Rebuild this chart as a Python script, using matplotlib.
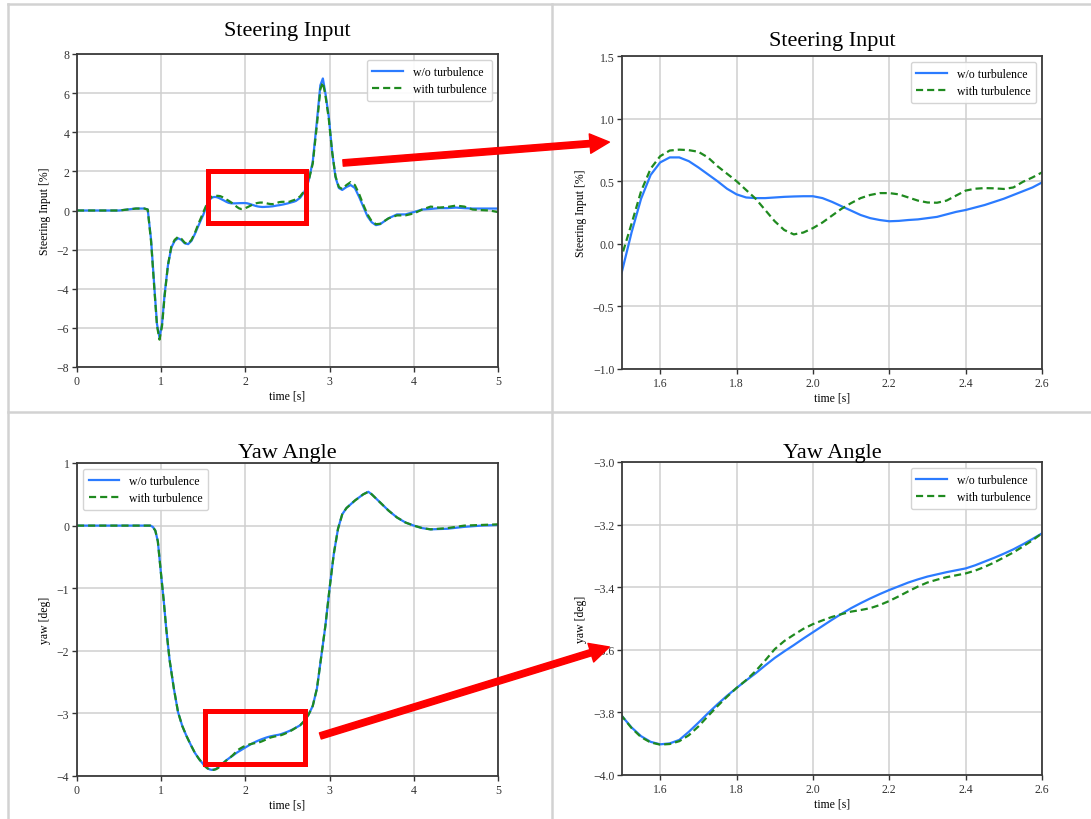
import matplotlib
matplotlib.use("Agg")
import matplotlib.pyplot as plt
from matplotlib.patches import Rectangle, ConnectionPatch
from matplotlib.lines import Line2D

plt.rcParams['font.family'] = ['Liberation Serif', 'DejaVu Serif']

# ---------------- data ----------------
t_steer = [0.0, 0.3, 0.5, 0.6, 0.7, 0.8, 0.84, 0.88, 0.92, 0.95, 0.98, 1.01, 1.04, 1.08,
           1.12, 1.16, 1.2, 1.24, 1.28, 1.32, 1.36, 1.4, 1.44, 1.47,
           1.5, 1.525, 1.55, 1.575, 1.6, 1.625, 1.65, 1.675, 1.7, 1.725, 1.75, 1.775,
           1.8, 1.825, 1.85, 1.875, 1.9, 1.925, 1.95, 1.975, 2.0, 2.025, 2.05, 2.075,
           2.1, 2.125, 2.15, 2.175, 2.2, 2.225, 2.25, 2.275, 2.3, 2.325, 2.35, 2.375,
           2.4, 2.425, 2.45, 2.475, 2.5, 2.525, 2.55, 2.575, 2.6,
           2.65, 2.7, 2.75, 2.8, 2.85, 2.89, 2.92, 2.95, 2.99, 3.03, 3.07, 3.11, 3.15,
           3.2, 3.25, 3.3, 3.35, 3.4, 3.45, 3.5, 3.55, 3.6, 3.7, 3.8, 3.9, 4.0, 4.1,
           4.2, 4.3, 4.4, 4.5, 4.6, 4.7, 4.8, 4.9, 5.0]

steer_wo = [0.0, 0.0, 0.0, 0.05, 0.1, 0.1, 0.05, -1.5, -4.0, -5.8, -6.5, -5.8, -4.3, -2.8,
            -1.9, -1.55, -1.42, -1.5, -1.68, -1.72, -1.55, -1.2, -0.8, -0.5,
            -0.22, 0.09, 0.36, 0.55, 0.65, 0.69, 0.69, 0.66, 0.61, 0.555, 0.50, 0.44,
            0.395, 0.37, 0.365, 0.365, 0.37, 0.375, 0.378, 0.38, 0.38, 0.365, 0.335, 0.30,
            0.265, 0.23, 0.205, 0.19, 0.18, 0.183, 0.19, 0.195, 0.205, 0.215, 0.235, 0.255,
            0.27, 0.29, 0.31, 0.335, 0.36, 0.39, 0.42, 0.45, 0.49,
            0.65, 0.95, 1.5, 2.5, 4.6, 6.4, 6.75, 6.0, 4.8, 3.0, 1.7, 1.15, 1.05,
            1.2, 1.3, 1.15, 0.7, 0.2, -0.3, -0.6, -0.75, -0.7, -0.4, -0.2, -0.2, -0.08, 0.05,
            0.08, 0.12, 0.12, 0.15, 0.12, 0.1, 0.1, 0.1, 0.1]

steer_with = [0.0, 0.0, 0.0, 0.05, 0.1, 0.1, 0.05, -1.6, -4.1, -5.9, -6.6, -5.9, -4.4, -2.8,
              -1.85, -1.5, -1.35, -1.45, -1.65, -1.7, -1.5, -1.15, -0.7, -0.4,
              -0.09, 0.16, 0.42, 0.60, 0.70, 0.745, 0.752, 0.748, 0.735, 0.69, 0.62, 0.56,
              0.50, 0.43, 0.36, 0.27, 0.18, 0.11, 0.075, 0.09, 0.125, 0.17, 0.225, 0.28,
              0.325, 0.365, 0.39, 0.405, 0.405, 0.395, 0.37, 0.345, 0.33, 0.328, 0.345, 0.385,
              0.425, 0.44, 0.445, 0.443, 0.438, 0.45, 0.495, 0.53, 0.57,
              0.72, 1.0, 1.5, 2.4, 4.4, 6.2, 6.55, 5.9, 4.7, 3.0, 1.75, 1.2, 1.1,
              1.3, 1.45, 1.3, 0.85, 0.3, -0.2, -0.55, -0.7, -0.68, -0.4, -0.25, -0.25, -0.15, 0.05,
              0.2, 0.15, 0.18, 0.25, 0.2, 0.05, 0.02, 0.0, -0.08]

t_yaw = [0.0, 0.5, 0.8, 0.87, 0.9, 0.93, 0.96, 1.0, 1.03, 1.06, 1.1, 1.15, 1.2, 1.25,
         1.3, 1.35, 1.4, 1.45,
         1.5, 1.525, 1.55, 1.575, 1.6, 1.625, 1.65, 1.675, 1.7, 1.725, 1.75, 1.775,
         1.8, 1.825, 1.85, 1.875, 1.9, 1.925, 1.95, 1.975, 2.0, 2.025, 2.05, 2.075,
         2.1, 2.125, 2.15, 2.175, 2.2, 2.225, 2.25, 2.275, 2.3, 2.325, 2.35, 2.375,
         2.4, 2.425, 2.45, 2.475, 2.5, 2.525, 2.55, 2.575, 2.6,
         2.65, 2.7, 2.75, 2.8, 2.85, 2.9, 2.95, 3.0, 3.05, 3.1, 3.15, 3.2, 3.3, 3.4,
         3.46, 3.5, 3.6, 3.7, 3.8, 3.9, 4.0, 4.1, 4.2, 4.4, 4.6, 4.8, 5.0]

yaw_wo = [0.0, 0.0, 0.0, 0.0, -0.02, -0.08, -0.25, -0.8, -1.2, -1.65, -2.15, -2.6, -2.98, -3.2,
          -3.36, -3.5, -3.63, -3.73,
          -3.812, -3.848, -3.876, -3.894, -3.902, -3.899, -3.888, -3.862, -3.833, -3.803,
          -3.774, -3.747,
          -3.722, -3.698, -3.675, -3.65, -3.626, -3.605, -3.585, -3.564, -3.544, -3.524,
          -3.504, -3.485, -3.467, -3.451, -3.436, -3.422, -3.409, -3.397, -3.385, -3.375,
          -3.366, -3.359, -3.352, -3.346, -3.340, -3.33, -3.318, -3.306, -3.293, -3.279,
          -3.263, -3.246, -3.228,
          -3.19, -3.12, -3.02, -2.88, -2.6, -2.1, -1.6, -1.0, -0.45, -0.05, 0.18, 0.28,
          0.4, 0.5, 0.54, 0.5, 0.37, 0.24, 0.13, 0.05, 0.0, -0.04, -0.06, -0.05, -0.02,
          0.0, 0.01]

yaw_with = [0.0, 0.0, 0.0, 0.0, -0.02, -0.08, -0.25, -0.8, -1.2, -1.65, -2.15, -2.6, -2.98, -3.2,
            -3.36, -3.5, -3.63, -3.73,
            -3.812, -3.85, -3.879, -3.896, -3.903, -3.901, -3.892, -3.873, -3.845, -3.812,
            -3.78, -3.75,
            -3.722, -3.697, -3.668, -3.634, -3.598, -3.572, -3.552, -3.533, -3.518, -3.506,
            -3.495, -3.486, -3.478, -3.473, -3.467, -3.457, -3.444, -3.429, -3.413, -3.398,
            -3.385, -3.376, -3.368, -3.362, -3.356, -3.347, -3.335, -3.321, -3.305, -3.289,
            -3.27, -3.25, -3.228,
            -3.19, -3.12, -3.02, -2.88, -2.6, -2.1, -1.6, -1.0, -0.45, -0.05, 0.18, 0.28,
            0.4, 0.5, 0.54, 0.5, 0.37, 0.24, 0.13, 0.05, 0.0, -0.04, -0.06, -0.04, 0.0,
            0.01, 0.02]

labels = ["w/o turbulence", "with turbulence"]

# highlighted windows on the overview plots (t0, t1, y0, y1)
steer_box = (1.55, 2.72, -0.64, 2.02)
yaw_box = (1.52, 2.71, -3.81, -2.96)

# ---------------- styling ----------------
BLUE = '#2b7bff'
GREEN = '#1f8a1f'
RED = '#ff0000'
W, H = 1091, 820

fig = plt.figure(figsize=(W / 100, H / 100), dpi=100)
fig.patch.set_facecolor('white')


def ax_at(x0, x1, y0, y1):
    """Axes placed by pixel box (y measured from the top)."""
    return fig.add_axes([x0 / W, 1 - y1 / H, (x1 - x0) / W, (y1 - y0) / H])


def style(ax, title, ylabel, pad, legend_loc):
    ax.set_title(title, fontsize=16, pad=pad)
    ax.set_xlabel('time [s]', fontsize=8.5, labelpad=2)
    ax.set_ylabel(ylabel, fontsize=8.5, labelpad=4)
    ax.tick_params(labelsize=8.5, length=3.5, width=1.0, color='#333333',
                   labelcolor='#333333', pad=2)
    ax.grid(True, color='#cfcfcf', lw=1.1)
    ax.set_axisbelow(True)
    for s in ax.spines.values():
        s.set_color('#3a3a3a')
        s.set_linewidth(1.3)
    ax.legend(loc=legend_loc, fontsize=8.5, handlelength=2.6, framealpha=0.9,
              edgecolor='#d0d0d0', borderpad=0.5, labelspacing=0.45)


def draw(ax, t, a, b):
    ax.plot(t, a, color=BLUE, lw=1.6, label=labels[0])
    ax.plot(t, b, color=GREEN, lw=1.6, ls=(0, (3.2, 1.8)), label=labels[1])


ax1 = ax_at(77, 498, 55, 368)
ax2 = ax_at(622, 1042, 57, 370)
ax3 = ax_at(77, 498, 464, 777)
ax4 = ax_at(622, 1042, 463, 776)

draw(ax1, t_steer, steer_wo, steer_with)
ax1.set_xlim(0, 5)
ax1.set_ylim(-8, 8)
ax1.set_yticks(range(-8, 9, 2))
style(ax1, 'Steering Input', 'Steering Input [%]', 14, 'upper right')

draw(ax2, t_steer, steer_wo, steer_with)
ax2.set_xlim(1.5, 2.6)
ax2.set_ylim(-1.0, 1.5)
ax2.set_xticks([1.6, 1.8, 2.0, 2.2, 2.4, 2.6])
ax2.set_yticks([-1.0, -0.5, 0.0, 0.5, 1.0, 1.5])
style(ax2, 'Steering Input', 'Steering Input [%]', 8, 'upper right')

draw(ax3, t_yaw, yaw_wo, yaw_with)
ax3.set_xlim(0, 5)
ax3.set_ylim(-4, 1)
style(ax3, 'Yaw Angle', 'yaw [deg]', 4.5, 'upper left')

draw(ax4, t_yaw, yaw_wo, yaw_with)
ax4.set_xlim(1.5, 2.6)
ax4.set_ylim(-4.0, -3.0)
ax4.set_xticks([1.6, 1.8, 2.0, 2.2, 2.4, 2.6])
ax4.set_yticks([-4.0, -3.8, -3.6, -3.4, -3.2, -3.0])
style(ax4, 'Yaw Angle', 'yaw [deg]', 3.5, 'upper right')

# highlight boxes on the overview plots
for ax, (t0, t1, y0, y1) in ((ax1, steer_box), (ax3, yaw_box)):
    ax.add_patch(Rectangle((t0, y0), t1 - t0, y1 - y0, fill=False, edgecolor=RED,
                           lw=3.6, zorder=10, clip_on=False))

# arrows pointing from each overview to its close-up
arrow_style = "simple,head_length=0.7,head_width=0.7,tail_width=0.23"
for src, xy_a, dst, xy_b in ((ax1, (3.16, 2.43), ax2, (-0.03, 0.725)),
                             (ax3, (2.89, -3.36), ax4, (-0.03, 0.409))):
    con = ConnectionPatch(xyA=xy_a, coordsA=src.transData, xyB=xy_b, coordsB=dst.transAxes,
                          arrowstyle=arrow_style, mutation_scale=20, color=RED,
                          shrinkA=0, shrinkB=0, zorder=20)
    fig.add_artist(con)

# table-like grey frame around the four panels
frame_kw = dict(transform=fig.transFigure, color='#d2d2d2', lw=1.8, zorder=0)
fig.add_artist(Line2D([8 / W, 1], [1 - 5 / H, 1 - 5 / H], **frame_kw))
fig.add_artist(Line2D([8 / W, 8 / W], [0, 1 - 5 / H], **frame_kw))
fig.add_artist(Line2D([552 / W, 552 / W], [0, 1 - 5 / H], **frame_kw))
fig.add_artist(Line2D([8 / W, 1], [1 - 413 / H, 1 - 413 / H], **frame_kw))

fig.savefig('out.png', dpi=100, facecolor='white')
